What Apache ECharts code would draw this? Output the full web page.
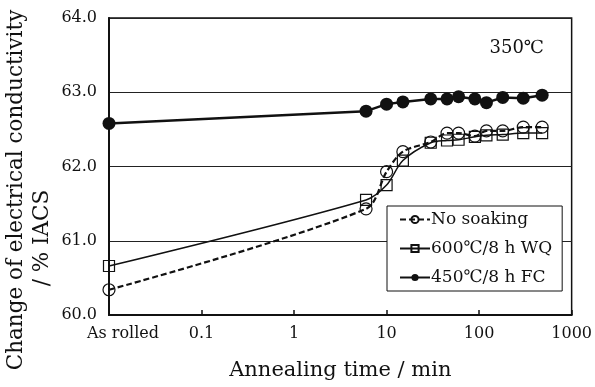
<!DOCTYPE html>
<html>
<head>
<meta charset="utf-8">
<script src="https://cdn.jsdelivr.net/npm/echarts@6/dist/echarts.min.js"></script>
<style>
  html, body { margin: 0; padding: 0; background: #fff; }
  #chart { width: 595px; height: 387px; }
</style>
</head>
<body>
<div id="chart"></div>
<script>
// x = 0.01 stands for the "As rolled" state on the log axis
const times = [0.01, 6, 10, 15, 30, 45, 60, 90, 120, 180, 300, 480];
const noSoaking = [60.34, 61.43, 61.93, 62.20, 62.33, 62.45, 62.45, 62.41, 62.48, 62.48, 62.53, 62.53];
const wq600 = [60.66, 61.55, 61.75, 62.08, 62.32, 62.35, 62.36, 62.40, 62.42, 62.43, 62.45, 62.45];
const fc450 = [62.58, 62.745, 62.84, 62.87, 62.91, 62.91, 62.94, 62.91, 62.86, 62.93, 62.92, 62.96];
const xTickLabels = ['As rolled', '0.1', '1', '10', '100', '1000'];
const seriesNames = ['No soaking', '600\u2103/8 h WQ', '450\u2103/8 h FC'];

const FONT = '"DejaVu Serif", "Liberation Serif", serif';
const pairs = vals => times.map((t, i) => [t, vals[i]]);

const chart = echarts.init(document.getElementById('chart'));

// rotated y title, two lines placed separately
const yTitle = (text, x, y) => ({
    type: 'text', x, y, rotation: Math.PI / 2,
    style: { text, font: '21.5px ' + FONT, fill: '#111', align: 'center', verticalAlign: 'middle' },
});

chart.setOption({
    animation: false,
    grid: { left: 109, right: 19, top: 18, bottom: 72, show: true, borderColor: '#111', borderWidth: 1.5 },
    title: {
        text: '350\u2103', right: 46, top: 34,
        textStyle: { fontFamily: FONT, fontSize: 18, fontWeight: 'normal', color: '#111' },
    },
    legend: {
        orient: 'vertical', left: 387, top: 206,
        data: seriesNames,
        backgroundColor: '#fff', borderColor: '#111', borderWidth: 1,
        padding: [5, 10, 5, 12], itemGap: 12, itemWidth: 30, itemHeight: 9,
        textStyle: { fontFamily: FONT, fontSize: 17, color: '#111', padding: [0, 0, 0, -4] },
    },
    graphic: [
        yTitle('Change of electrical conductivity', 16, 190),
        yTitle('/ % IACS', 42, 238),
    ],
    xAxis: {
        type: 'log', logBase: 10, min: 0.01, max: 1000,
        name: 'Annealing time / min', nameLocation: 'middle', nameGap: 45,
        nameTextStyle: { fontFamily: FONT, fontSize: 21, color: '#111' },
        axisLine: { lineStyle: { color: '#111', width: 2 } },
        axisTick: { show: true, inside: true, length: 5, lineStyle: { color: '#111', width: 1.5 } },
        splitLine: { show: false },
        minorTick: { show: false },
        axisLabel: {
            fontFamily: FONT, fontSize: 16, color: '#111', margin: 11,
            formatter: v => {
                const idx = Math.round(Math.log10(v)) + 2;
                return idx === 0 ? '{ar|' + xTickLabels[0] + '}' : (xTickLabels[idx] ?? '');
            },
            rich: { ar: { fontFamily: FONT, fontSize: 16, color: '#111', padding: [0, 0, 0, 28] } },
        },
    },
    yAxis: {
        type: 'value', min: 60, max: 64, interval: 1,
        axisLine: { show: true, lineStyle: { color: '#111', width: 2 } },
        axisTick: { show: false },
        splitLine: { lineStyle: { color: '#222', width: 1 } },
        axisLabel: { fontFamily: FONT, fontSize: 16, color: '#111', margin: 12, formatter: v => v.toFixed(1) },
    },
    series: [
        {
            name: seriesNames[0], type: 'line', data: pairs(noSoaking), smooth: 0.3,
            symbol: 'circle', symbolSize: 12,
            lineStyle: { color: '#111', width: 2.2, type: [6, 3] },
            itemStyle: { color: 'rgba(255,255,255,0)', borderColor: '#111', borderWidth: 1.2 },
            z: 3,
        },
        {
            name: seriesNames[1], type: 'line', data: pairs(wq600), smooth: 0.3,
            symbol: 'rect', symbolSize: 11,
            lineStyle: { color: '#111', width: 1.5 },
            itemStyle: { color: 'rgba(255,255,255,0)', borderColor: '#111', borderWidth: 1.2 },
            z: 2,
        },
        {
            name: seriesNames[2], type: 'line', data: pairs(fc450),
            symbol: 'circle', symbolSize: 13,
            lineStyle: { color: '#111', width: 2.5 },
            itemStyle: { color: '#111' },
            z: 4,
        },
    ],
});
</script>
</body>
</html>
